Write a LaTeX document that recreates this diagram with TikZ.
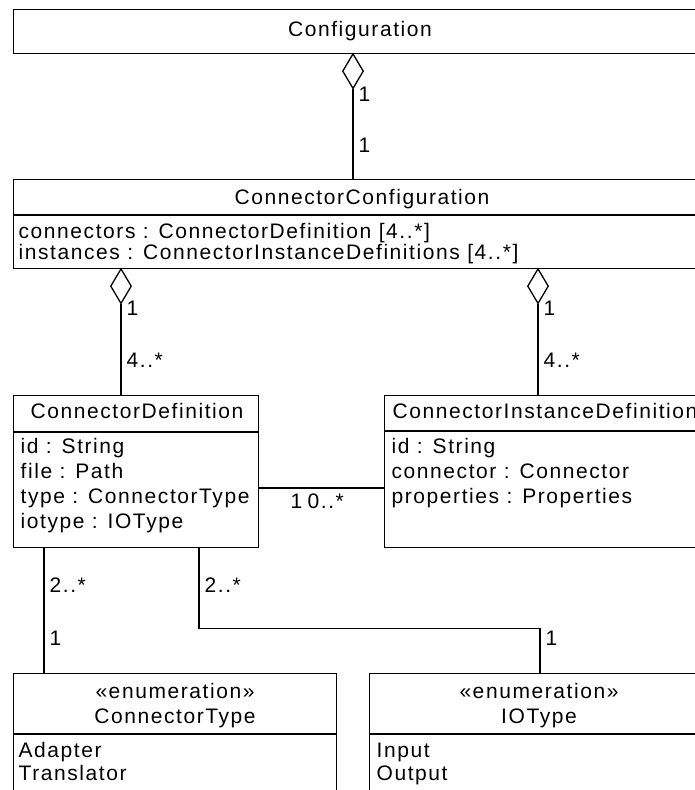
\documentclass[tikz,border=0pt]{standalone}
\usepackage{fontspec}
\setmainfont{Liberation Sans}[LetterSpace=7.5]
\usetikzlibrary{shapes.geometric}
\begin{document}
\begin{tikzpicture}[x=1pt,y=-1pt,line width=1.3pt,
  txt/.style={inner sep=0pt,font=\fontsize{21}{25}\selectfont,text height=15pt,text depth=4pt},
  lefttxt/.style={txt,anchor=west},
  umlbox/.style={draw,fill=white,inner sep=0pt,anchor=north west},
  agg/.style={diamond,draw,fill=white,inner sep=0pt,minimum width=21pt,minimum height=35pt,anchor=north}]
\fill[white] (0,0) rectangle (695,790);
\useasboundingbox (0,0) rectangle (695,790);
\clip (0,0) rectangle (695,790);

% Configuration
\node[umlbox,minimum width=700pt,minimum height=44pt] (cfg) at (13,9) {};
\node[txt] (cfgname) at (360,31) {Configuration};

% ConnectorConfiguration
\node[umlbox,minimum width=700pt,minimum height=89pt] (ccfg) at (13,179) {};
\draw ([yshift=-36pt]ccfg.north west) -- ([yshift=-36pt]ccfg.north east);
\node[txt] (ccfgname) at (362,199) {ConnectorConfiguration};
\node[lefttxt] (ccfga1) at (18,233) {connectors : ConnectorDefinition [4..*]};
\node[lefttxt] (ccfga2) at (18,254) {instances : ConnectorInstanceDefinitions [4..*]};

% ConnectorDefinition
\node[umlbox,minimum width=245pt,minimum height=152pt] (cd) at (13,395) {};
\draw ([yshift=-37pt]cd.north west) -- ([yshift=-37pt]cd.north east);
\node[txt] (cdname) at (137,413) {ConnectorDefinition};
\node[lefttxt] (cda1) at (20,448) {id : String};
\node[lefttxt] (cda2) at (20,473) {file : Path};
\node[lefttxt] (cda3) at (20,498) {type : ConnectorType};
\node[lefttxt] (cda4) at (20,523) {iotype : IOType};

% ConnectorInstanceDefinition
\node[umlbox,minimum width=330pt,minimum height=152pt] (cid) at (384,395) {};
\draw ([yshift=-36pt]cid.north west) -- ([yshift=-36pt]cid.north east);
\node[lefttxt] (cidname) at (392,413) {ConnectorInstanceDefinition};
\node[lefttxt] (cida1) at (391,448) {id : String};
\node[lefttxt] (cida2) at (391,473) {connector : Connector};
\node[lefttxt] (cida3) at (391,498) {properties : Properties};

% ConnectorType
\node[umlbox,minimum width=323pt,minimum height=150pt] (ct) at (13,673) {};
\draw ([yshift=-61pt]ct.north west) -- ([yshift=-61pt]ct.north east);
\node[txt] (ctst) at (175,693) {«enumeration»};
\node[txt] (ctname) at (175,718) {ConnectorType};
\node[lefttxt] (cte1) at (18,752) {Adapter};
\node[lefttxt] (cte2) at (18,775) {Translator};

% IOType
\node[umlbox,minimum width=345pt,minimum height=150pt] (iot) at (369,673) {};
\draw ([yshift=-61pt]iot.north west) -- ([yshift=-61pt]iot.north east);
\node[txt] (iotst) at (539,693) {«enumeration»};
\node[txt] (iotname) at (539,718) {IOType};
\node[lefttxt] (iote1) at (376,752) {Input};
\node[lefttxt] (iote2) at (376,775) {Output};

% Aggregations
\node[agg] (a1) at (353,53) {};
\draw (a1.south) -- (a1.south |- ccfg.north);
\node[lefttxt] at (358,96) {1};
\node[lefttxt] at (358,147) {1};

\node[agg] (a2) at (121,268) {};
\draw (a2.south) -- (a2.south |- cd.north);
\node[lefttxt] at (126,310) {1};
\node[lefttxt] at (126,362) {4..*};

\node[agg] (a3) at (538,268) {};
\draw (a3.south) -- (a3.south |- cid.north);
\node[lefttxt] at (543,310) {1};
\node[lefttxt] at (543,362) {4..*};

% Association between the definitions
\coordinate (assoc) at (0,488);
\draw (cd.east |- assoc) -- (cid.west |- assoc);
\node[lefttxt] at (290,503) {1};
\node[lefttxt] at (307,503) {0..*};

% Type associations
\coordinate (cdct) at ([xshift=31pt]cd.south west);
\draw (cdct) -- (cdct |- ct.north);
\node[lefttxt] at (49,587) {2..*};
\node[lefttxt] at (49,640) {1};

\coordinate (cdio) at ([xshift=186pt]cd.south west);
\coordinate (iotop) at ([xshift=171pt]iot.north west);
\draw (cdio) -- ++(0,80) -| (iotop);
\node[lefttxt] at (204,587) {2..*};
\node[lefttxt] at (545,640) {1};
\end{tikzpicture}
\end{document}
